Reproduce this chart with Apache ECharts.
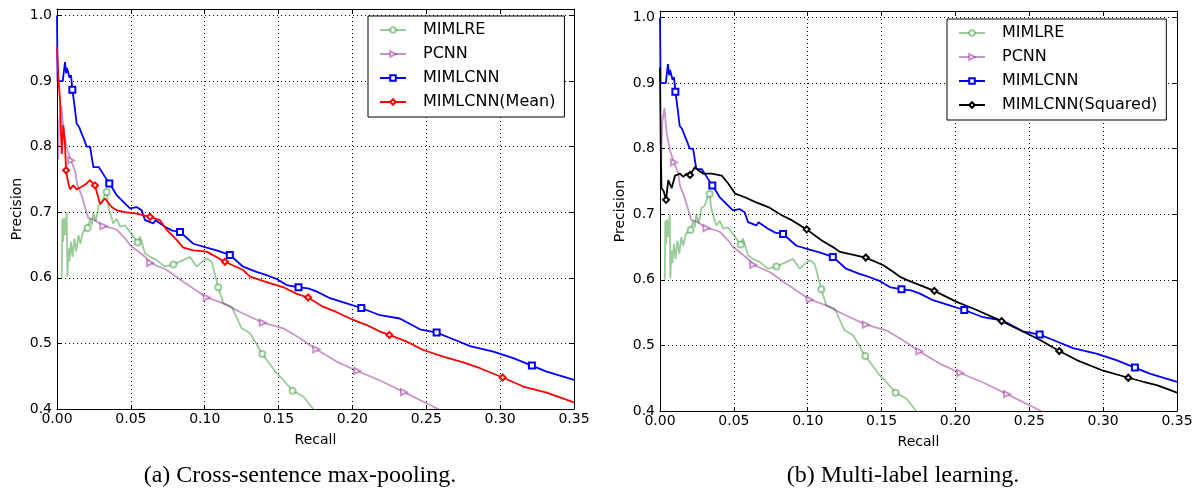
<!DOCTYPE html>
<html><head><meta charset="utf-8">
<script src="https://cdn.jsdelivr.net/npm/echarts@6/dist/echarts.min.js"></script>
<style>html,body{margin:0;padding:0;background:#fff}#c{width:1199px;height:491px}</style>
</head><body><div id="c"></div>
<script>
// ---- axes ----
const recallMin = 0, recallMax = 0.35, recallStep = 0.05;
const precMin = 0.4, precMax = 1.01, precStep = 0.1;
const xName = 'Recall', yName = 'Precision';
const captions = ['(a) Cross-sentence max-pooling.', '(b) Multi-label learning.'];
const legendA = ['MIMLRE', 'PCNN', 'MIMLCNN', 'MIMLCNN(Mean)'];
const legendB = ['MIMLRE', 'PCNN', 'MIMLCNN', 'MIMLCNN(Squared)'];

// ---- series values [recall, precision] ----
const mimlre = [[0.0032,0.60],[0.0036,0.69],[0.0042,0.655],[0.0048,0.692],[0.0054,0.665],[0.0066,0.70],[0.007,0.602],[0.0078,0.645],[0.0084,0.625],[0.0095,0.655],[0.0105,0.632],[0.0118,0.66],[0.013,0.64],[0.0145,0.665],[0.0158,0.652],[0.0175,0.67],[0.0225,0.69],[0.0235,0.68],[0.0246,0.70],[0.0262,0.686],[0.0282,0.71],[0.0302,0.713],[0.032,0.725],[0.0348,0.708],[0.0365,0.695],[0.0381,0.683],[0.0405,0.69],[0.0427,0.678],[0.046,0.68],[0.0494,0.670],[0.0562,0.663],[0.0596,0.637],[0.063,0.632],[0.0675,0.627],[0.0731,0.617],[0.0855,0.627],[0.09,0.632],[0.0946,0.617],[0.0985,0.625],[0.1013,0.630],[0.1047,0.6245],[0.1126,0.561],[0.1182,0.556],[0.125,0.523],[0.1307,0.5155],[0.1487,0.4546],[0.1517,0.448],[0.1667,0.419],[0.1735,0.400],[0.176,0.395]];
const mimlreMarks = [[0.0207,0.676],[0.0336,0.731],[0.0546,0.654],[0.0788,0.6205],[0.1092,0.5855],[0.139,0.484],[0.1595,0.428]];

const pcnn = [[0.0008,0.78],[0.0015,0.84],[0.003,0.862],[0.0045,0.823],[0.0068,0.797],[0.0124,0.762],[0.0135,0.744],[0.0169,0.724],[0.0192,0.706],[0.0212,0.691],[0.0248,0.689],[0.0372,0.676],[0.0406,0.673],[0.0462,0.66],[0.0494,0.65],[0.054,0.642],[0.0607,0.630],[0.0743,0.612],[0.0855,0.594],[0.1126,0.561],[0.1239,0.548],[0.1532,0.523],[0.1645,0.508],[0.1893,0.4723],[0.2187,0.4434],[0.258,0.40],[0.262,0.395]];
const pcnnMarks = [[0.0095,0.779],[0.0314,0.679],[0.063,0.623],[0.1013,0.570],[0.1393,0.5317],[0.1755,0.491],[0.2032,0.458],[0.2349,0.4257]];

const mimlcnn = [[0.0,1.0],[0.0004,0.9],[0.0039,0.9],[0.0054,0.929],[0.0062,0.912],[0.0068,0.92],[0.0085,0.905],[0.0095,0.909],[0.012,0.86],[0.0133,0.835],[0.015,0.83],[0.0167,0.82],[0.0185,0.81],[0.0201,0.80],[0.0224,0.80],[0.0246,0.769],[0.0282,0.769],[0.0325,0.754],[0.038,0.735],[0.0404,0.726],[0.0449,0.716],[0.0494,0.706],[0.0539,0.708],[0.0573,0.703],[0.0596,0.688],[0.0652,0.683],[0.0667,0.688],[0.0731,0.678],[0.078,0.672],[0.0923,0.652],[0.1013,0.646],[0.108,0.642],[0.126,0.617],[0.135,0.609],[0.142,0.604],[0.149,0.598],[0.1555,0.589],[0.170,0.584],[0.176,0.579],[0.1848,0.569],[0.195,0.562],[0.2187,0.543],[0.232,0.538],[0.2457,0.5216],[0.2683,0.5064],[0.2796,0.496],[0.2954,0.4875],[0.3089,0.4775],[0.3315,0.457],[0.35,0.4445]];
const mimlcnnMarks = [[0.0104,0.887],[0.0354,0.744],[0.0833,0.670],[0.117,0.635],[0.1635,0.5855],[0.206,0.554],[0.257,0.5165],[0.3215,0.4662]];

const mimlcnnMean = [[0.0,0.952],[0.0008,0.91],[0.002,0.873],[0.0032,0.789],[0.0043,0.833],[0.0054,0.805],[0.0077,0.744],[0.0088,0.735],[0.011,0.741],[0.0133,0.735],[0.0167,0.739],[0.0201,0.744],[0.0223,0.749],[0.0291,0.713],[0.0325,0.721],[0.037,0.708],[0.0404,0.703],[0.0472,0.70],[0.054,0.698],[0.0697,0.688],[0.0743,0.673],[0.081,0.658],[0.0855,0.646],[0.0923,0.642],[0.1013,0.640],[0.126,0.612],[0.1307,0.602],[0.144,0.592],[0.153,0.586],[0.162,0.576],[0.180,0.556],[0.189,0.548],[0.2006,0.5358],[0.2097,0.528],[0.2187,0.518],[0.2367,0.5028],[0.248,0.490],[0.2615,0.480],[0.275,0.471],[0.2864,0.4622],[0.3157,0.4343],[0.3315,0.425],[0.35,0.410]];
const mimlcnnMeanMarks = [[0.0061,0.764],[0.0257,0.741],[0.063,0.693],[0.1137,0.6245],[0.170,0.570],[0.225,0.513],[0.3017,0.448]];

const mimlcnnSquared = [[0.0,0.924],[0.0005,0.80],[0.001,0.74],[0.0025,0.735],[0.0056,0.752],[0.0079,0.74],[0.0102,0.759],[0.0135,0.762],[0.0158,0.757],[0.018,0.762],[0.0237,0.772],[0.0259,0.767],[0.0293,0.762],[0.035,0.762],[0.0418,0.759],[0.0462,0.747],[0.0508,0.7315],[0.0575,0.726],[0.0643,0.719],[0.0733,0.711],[0.0824,0.6985],[0.0892,0.691],[0.1095,0.660],[0.1185,0.648],[0.1219,0.6426],[0.1512,0.6223],[0.158,0.612],[0.1625,0.6046],[0.167,0.600],[0.2008,0.5665],[0.2144,0.554],[0.246,0.5208],[0.2573,0.5082],[0.2821,0.4777],[0.3001,0.4614],[0.3272,0.4446],[0.3363,0.4396],[0.35,0.428]];
const mimlcnnSquaredMarks = [[0.0041,0.722],[0.0203,0.760],[0.0993,0.677],[0.1393,0.634],[0.1857,0.5832],[0.2313,0.537],[0.2703,0.4914],[0.317,0.4507]];

// ---- build ----
function build(points, marks) {
  const all = points.map(p => ({ value: p, symbol: 'none' })).concat(marks.map(p => ({ value: p })));
  all.sort((a, b) => a.value[0] - b.value[0]);
  return all;
}
const FONT = 'DejaVu Sans';
const styles = {
  'MIMLRE': { color: 'rgba(0,128,0,0.4)', symbol: 'emptyCircle', rot: 0 },
  'PCNN': { color: 'rgba(128,0,128,0.42)', symbol: 'emptyTriangle', rot: -90 },
  'MIMLCNN': { color: '#0000ff', symbol: 'emptyRect', rot: 0 },
  'MIMLCNN(Mean)': { color: '#ff0000', symbol: 'emptyDiamond', rot: 0 },
  'MIMLCNN(Squared)': { color: '#000000', symbol: 'emptyDiamond', rot: 0 }
};
const dataByName = {
  'MIMLRE': [mimlre, mimlreMarks], 'PCNN': [pcnn, pcnnMarks], 'MIMLCNN': [mimlcnn, mimlcnnMarks],
  'MIMLCNN(Mean)': [mimlcnnMean, mimlcnnMeanMarks], 'MIMLCNN(Squared)': [mimlcnnSquared, mimlcnnSquaredMarks]
};
function mkSeries(name, gi) {
  const s = styles[name];
  const [pts, mk] = dataByName[name];
  return {
    type: 'line', name, xAxisIndex: gi * 2, yAxisIndex: gi * 2,
    data: build(pts, mk), symbol: s.symbol, symbolSize: 6, symbolRotate: s.rot,
    showSymbol: true, smooth: false, clip: true, animation: false,
    color: s.color,
    lineStyle: { color: s.color, width: 1.8 },
    itemStyle: { color: s.color, borderWidth: 1 },
    emphasis: { disabled: true }
  };
}
const grids = [
  { left: 57, right: 625, top: 9, bottom: 82 },
  { left: 660, right: 22, top: 11, bottom: 80 }
];
const dash = [1, 3];
function onTenth(v) { return Math.abs(v * 10 - Math.round(v * 10)) < 1e-6; }
const xAxes = [], yAxes = [];
grids.forEach((g, gi) => {
  xAxes.push({
    type: 'value', gridIndex: gi, position: 'bottom', min: recallMin, max: recallMax, interval: recallStep,
    axisLine: { show: true, onZero: false, lineStyle: { color: '#000', width: 1 } },
    axisTick: { show: true, inside: true, length: 4, lineStyle: { color: '#000' } },
    axisLabel: { show: true, margin: 3, color: '#000', fontSize: 14, fontFamily: FONT, formatter: v => v.toFixed(2) },
    splitLine: { show: true, lineStyle: { color: '#000', width: 1, type: dash } },
    name: xName, nameLocation: 'middle', nameGap: 24,
    nameTextStyle: { color: '#000', fontSize: 14, fontFamily: FONT }
  });
  xAxes.push({
    type: 'value', gridIndex: gi, position: 'top', min: recallMin, max: recallMax, interval: recallStep,
    axisLine: { show: true, onZero: false, lineStyle: { color: '#000', width: 1 } },
    axisTick: { show: true, inside: true, length: 4, lineStyle: { color: '#000' } },
    axisLabel: { show: false }, splitLine: { show: false }
  });
  yAxes.push({
    type: 'value', gridIndex: gi, position: 'left', min: precMin, max: precMax, interval: precStep,
    axisLine: { show: true, onZero: false, lineStyle: { color: '#000', width: 1 } },
    axisTick: { show: true, inside: true, length: 4, lineStyle: { color: '#000' } },
    axisLabel: { show: true, margin: 5, color: '#000', fontSize: 14, fontFamily: FONT,
      formatter: v => onTenth(v) ? v.toFixed(1) : '' },
    splitLine: { show: true, lineStyle: { color: '#000', width: 1, type: dash } },
    name: yName, nameLocation: 'middle', nameGap: 33,
    nameTextStyle: { color: '#000', fontSize: 14, fontFamily: FONT }
  });
  yAxes.push({
    type: 'value', gridIndex: gi, position: 'right', min: precMin, max: precMax, interval: precStep,
    axisLine: { show: true, onZero: false, lineStyle: { color: '#000', width: 1 } },
    axisTick: { show: true, inside: true, length: 4, lineStyle: { color: '#000' } },
    axisLabel: { show: false }, splitLine: { show: false }
  });
});
function mkLegend(names, left, top) {
  return {
    data: names, orient: 'vertical', left, top, padding: [6, 9, 7, 11],
    itemWidth: 26, itemHeight: 7, itemGap: 8,
    backgroundColor: '#fff', borderColor: '#000', borderWidth: 1, borderRadius: 0,
    selectedMode: false,
    textStyle: { color: '#000', fontSize: 16, fontFamily: FONT, padding: [0, 0, 0, 12] }
  };
}
const series = [];
legendA.forEach(n => series.push(mkSeries(n, 0)));
legendB.forEach(n => series.push(mkSeries(n, 1)));

const chart = echarts.init(document.getElementById('c'), null, { renderer: 'canvas' });
chart.setOption({
  animation: false,
  backgroundColor: '#fff',
  grid: grids,
  xAxis: xAxes,
  yAxis: yAxes,
  legend: [mkLegend(legendA, 368, 16), mkLegend(legendB, 947, 19)],
  series,
  graphic: [
    { type: 'text', x: 300, y: 476, style: { text: captions[0], fill: '#000', font: '24px "Liberation Serif"', align: 'center', verticalAlign: 'middle' } },
    { type: 'text', x: 903, y: 476, style: { text: captions[1], fill: '#000', font: '24px "Liberation Serif"', align: 'center', verticalAlign: 'middle' } }
  ]
});
</script></body></html>
